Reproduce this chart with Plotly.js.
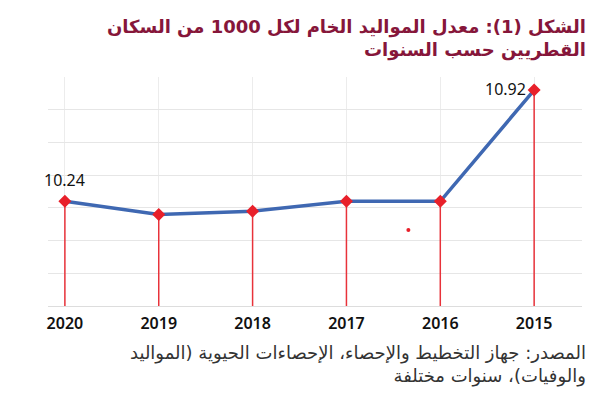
<!DOCTYPE html>
<html><head><meta charset="utf-8">
<script src="https://cdn.plot.ly/plotly-3.0.1.min.js"></script>
<style>html,body{margin:0;padding:0;background:#fff}#chart{width:600px;height:398px}</style>
</head><body><div id="chart"></div>
<script>
const years = ['2020','2019','2018','2017','2016','2015'];
const birthRate = [10.24, 10.16, 10.18, 10.24, 10.24, 10.92];
const labelledYears = ['2020','2015'];
const strayX = [3.66];
const strayY = [10.065];
const yMin = 9.6, yMax = 11.0;

const idx = years.map((_, i) => i);
const dropX = [], dropY = [];
idx.forEach((i) => { dropX.push(i, i, null); dropY.push(yMin, birthRate[i], null); });

const labelIdx = years.map((y, i) => labelledYears.includes(y) ? i : -1).filter(i => i >= 0);

const traces = [
  {x: dropX, y: dropY, mode: 'lines', line: {color: '#e8323a', width: 1.5}, hoverinfo: 'skip', showlegend: false},
  {x: idx, y: birthRate, mode: 'lines', line: {color: '#3f68b2', width: 3.5}, showlegend: false},
  {x: idx, y: birthRate, mode: 'markers', marker: {symbol: 'diamond', color: '#e8202a', size: 10}, showlegend: false},
  {x: strayX, y: strayY, mode: 'markers', marker: {color: '#e8202a', size: 4}, showlegend: false}
];

const annotations = labelIdx.map((i) => ({
  x: i, y: birthRate[i], xref: 'x', yref: 'y',
  text: birthRate[i].toFixed(2), showarrow: false,
  xanchor: i === 0 ? 'center' : 'right', yanchor: i === 0 ? 'bottom' : 'middle',
  xshift: i === 0 ? 0 : -6, yshift: i === 0 ? 8 : 1,
  font: {family: 'Noto Sans, DejaVu Sans, sans-serif', size: 16, color: '#111'}
}));
annotations.push({
  xref: 'paper', yref: 'paper', x: 1.012, y: 1.275, xanchor: 'right', yanchor: 'top', align: 'right',
  text: 'الشكل (1): معدل المواليد الخام لكل 1000 من السكان<br>القطريين حسب السنوات',
  showarrow: false,
  font: {family: 'DejaVu Sans, sans-serif', size: 18, color: '#86163a', weight: 700}
});
annotations.push({
  xref: 'paper', yref: 'paper', x: 1.012, y: -0.15, xanchor: 'right', yanchor: 'top', align: 'right',
  text: 'المصدر: جهاز التخطيط والإحصاء، الإحصاءات الحيوية (المواليد<br>والوفيات)، سنوات مختلفة',
  showarrow: false,
  font: {family: 'DejaVu Sans, sans-serif', size: 18, color: '#333'}
});

const layout = {
  width: 600, height: 398,
  margin: {l: 48, r: 18, t: 77, b: 92},
  paper_bgcolor: '#fff', plot_bgcolor: '#fff',
  xaxis: {
    range: [-0.18, 5.51], tickvals: idx, ticktext: years,
    showgrid: true, gridcolor: '#ececec', gridwidth: 1, zeroline: false,
    showline: true, linecolor: '#dddddd', ticks: 'outside', ticklen: 3, tickcolor: 'rgba(0,0,0,0)',
    tickfont: {family: 'Noto Sans, DejaVu Sans, sans-serif', size: 16, color: '#111', weight: 600},
    fixedrange: true
  },
  yaxis: {
    range: [yMin, yMax], dtick: 0.2, tick0: yMin,
    showgrid: true, gridcolor: '#e6e6e6', gridwidth: 1, zeroline: false,
    showticklabels: false, ticks: '', showline: false, fixedrange: true
  },
  annotations: annotations,
  showlegend: false
};

Plotly.newPlot('chart', traces, layout, {displayModeBar: false, staticPlot: true});
</script></body></html>
